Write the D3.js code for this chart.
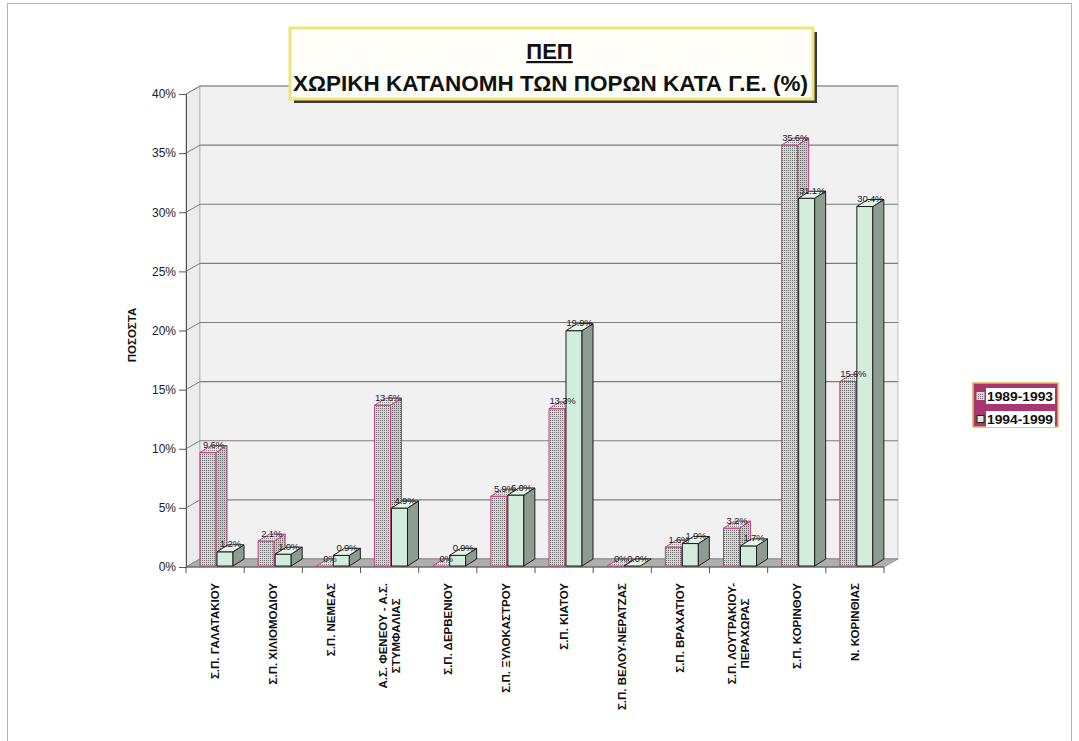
<!DOCTYPE html>
<html>
<head>
<meta charset="utf-8">
<script src="https://cdn.jsdelivr.net/npm/d3@7"></script>
<style>
  html, body { margin: 0; padding: 0; background: #fff; }
  svg { display: block; font-family: "Liberation Sans", Arial, sans-serif; }
</style>
</head>
<body>
<svg id="chart" width="1079" height="741"></svg>
<script>
// Regions (Γ.Ε.) — "\n" marks a wrapped axis label
const categories = [
  "Σ.Π. ΓΑΛΑΤΑΚΙΟΥ",
  "Σ.Π. ΧΙΛΙΟΜΟΔΙΟΥ",
  "Σ.Π. ΝΕΜΕΑΣ",
  "Α.Σ. ΦΕΝΕΟΥ - Α.Σ.\nΣΤΥΜΦΑΛΙΑΣ",
  "Σ.Π. ΔΕΡΒΕΝΙΟΥ",
  "Σ.Π. ΞΥΛΟΚΑΣΤΡΟΥ",
  "Σ.Π. ΚΙΑΤΟΥ",
  "Σ.Π. ΒΕΛΟΥ-ΝΕΡΑΤΖΑΣ",
  "Σ.Π. ΒΡΑΧΑΤΙΟΥ",
  "Σ.Π. ΛΟΥΤΡΑΚΙΟΥ-\nΠΕΡΑΧΩΡΑΣ",
  "Σ.Π. ΚΟΡΙΝΘΟΥ",
  "Ν. ΚΟΡΙΝΘΙΑΣ"
];
const seriesNames = ["1989-1993", "1994-1999"];
const values1989 = [9.6, 2.1, 0, 13.6, 0, 5.9, 13.3, 0, 1.6, 3.2, 35.6, 15.6];
const values1994 = [1.2, 1.0, 0.9, 4.9, 0.9, 6.0, 19.9, 0.0, 1.9, 1.7, 31.1, 30.4];
const yTicks = [0, 5, 10, 15, 20, 25, 30, 35, 40];
const titleLine1 = "ΠΕΠ";
const titleLine2 = "ΧΩΡΙΚΗ ΚΑΤΑΝΟΜΗ ΤΩΝ ΠΟΡΩΝ ΚΑΤΑ Γ.Ε. (%)";
const yAxisTitle = "ΠΟΣΟΣΤΑ";

const series = [values1989, values1994];

const svg = d3.select("#chart");

// page frame
svg.append("rect").attr("x", 7.5).attr("y", 3.5).attr("width", 1064).attr("height", 760)
  .attr("fill", "none").attr("stroke", "#a9b6cc").attr("stroke-width", 1);

// patterns for the dotted 1989-1993 bars
const defs = svg.append("defs");
function dotPattern(id, bg, dot) {
  const p = defs.append("pattern").attr("id", id).attr("patternUnits", "userSpaceOnUse")
    .attr("width", 2).attr("height", 2);
  p.append("rect").attr("width", 2).attr("height", 2).attr("fill", bg);
  p.append("rect").attr("width", 1).attr("height", 1).attr("fill", dot);
}
dotPattern("dotFront", "#d6d6d6", "#6f6f6f");
dotPattern("dotSide", "#c8c8c8", "#666666");
dotPattern("dotTop", "#e4e4e4", "#888888");

// plot geometry
const x0 = 186, x1 = 884;
const wallDx = 14, wallDy = -8;     // depth of the floor / back wall
const barDx = 11, barDy = -7;       // depth of each column

const x = d3.scaleBand().domain(d3.range(categories.length)).range([x0, x1]).paddingInner(0).paddingOuter(0);
const y = d3.scaleLinear().domain([0, 40]).range([567, 94]);

// side wall
svg.append("polygon")
  .attr("points", [[x0, y(40)], [x0 + wallDx, y(40) + wallDy], [x0 + wallDx, y(0) + wallDy], [x0, y(0)]].join(" "))
  .attr("fill", "#ececec").attr("stroke", "#9a9a9a").attr("stroke-width", 0.8);
// back wall
svg.append("rect")
  .attr("x", x0 + wallDx).attr("y", y(40) + wallDy)
  .attr("width", x1 - x0).attr("height", y(0) - y(40))
  .attr("fill", "#f1f1f1").attr("stroke", "#b5b5b5").attr("stroke-width", 0.8);

// gridlines on back wall and side wall
const grid = svg.append("g");
yTicks.forEach(t => {
  grid.append("line")
    .attr("x1", x0 + wallDx).attr("x2", x1 + wallDx)
    .attr("y1", y(t) + wallDy).attr("y2", y(t) + wallDy)
    .attr("stroke", "#7d7d7d").attr("stroke-width", 1.1);
  grid.append("line")
    .attr("x1", x0).attr("x2", x0 + wallDx)
    .attr("y1", y(t)).attr("y2", y(t) + wallDy)
    .attr("stroke", "#7d7d7d").attr("stroke-width", 1);
});

// floor
svg.append("polygon")
  .attr("points", [[x0, y(0)], [x0 + wallDx, y(0) + wallDy], [x1 + wallDx, y(0) + wallDy], [x1, y(0)]].join(" "))
  .attr("fill", "#aeaeae").attr("stroke", "#8c8c8c").attr("stroke-width", 0.8);

// y axis
const yAxis = d3.axisLeft(y).tickValues(yTicks).tickSize(7).tickPadding(3).tickFormat(d => d + "%");
const yg = svg.append("g").attr("transform", `translate(${x0},0)`).call(yAxis);
yg.select(".domain").attr("stroke", "#555");
yg.selectAll(".tick line").attr("stroke", "#555");
yg.selectAll(".tick text").attr("font-size", 12).attr("fill", "#222")
  .attr("font-family", "Liberation Sans, Arial, sans-serif");

// x axis: ticks at category boundaries
const xg = svg.append("g");
xg.append("line").attr("x1", x0).attr("x2", x1).attr("y1", y(0)).attr("y2", y(0))
  .attr("stroke", "#555");
d3.range(categories.length + 1).forEach(i => {
  const bx = i < categories.length ? x(i) : x1;
  xg.append("line").attr("x1", bx).attr("x2", bx).attr("y1", y(0)).attr("y2", y(0) + 6)
    .attr("stroke", "#555");
});

// columns
const styles = [
  { front: "url(#dotFront)", side: "url(#dotSide)", top: "url(#dotTop)", stroke: "#c8407e" },
  { front: "#d3eddc", side: "#8d9c91", top: "#e3f4e8", stroke: "#1e1e1e" }
];
const barW = 16, barGap = 1, barOffset = 14;
const bars = svg.append("g");
const labels = [];
categories.forEach((c, i) => {
  series.forEach((vals, s) => {
    const v = vals[i];
    const st = styles[s];
    const bx = x(i) + barOffset + s * (barW + barGap);
    const yb = y(0) - 1;
    const yt = y(v) - 1;
    const g = bars.append("g").attr("stroke", st.stroke).attr("stroke-width", 1).attr("stroke-linejoin", "round");
    if (v > 0) {
      g.append("rect").attr("x", bx).attr("y", yt).attr("width", barW).attr("height", yb - yt)
        .attr("fill", st.front);
      g.append("polygon")
        .attr("points", [[bx + barW, yt], [bx + barW + barDx, yt + barDy], [bx + barW + barDx, yb + barDy], [bx + barW, yb]].join(" "))
        .attr("fill", st.side);
    }
    g.append("polygon")
      .attr("points", [[bx, yt], [bx + barDx, yt + barDy], [bx + barW + barDx, yt + barDy], [bx + barW, yt]].join(" "))
      .attr("fill", st.top);
    labels.push({
      x: bx + barW / 2 + barDx / 2,
      y: yt + barDy / 2 - 1,
      text: (v === 0 && s === 0) ? "0%" : v.toFixed(1) + "%"
    });
  });
});

// value labels
svg.append("g").selectAll("text").data(labels).join("text")
  .attr("x", d => d.x).attr("y", d => d.y)
  .attr("text-anchor", "middle")
  .attr("font-size", 9.5).attr("fill", "#222")
  .attr("letter-spacing", -0.2)
  .text(d => d.text);

// category labels, rotated, reading upward
const xl = svg.append("g");
categories.forEach((c, i) => {
  const lines = c.split("\n");
  const cx = x(i) + x.bandwidth() / 2;
  const g = xl.append("g");
  const t = g.append("text")
    .attr("text-anchor", "middle")
    .attr("font-size", 11.5).attr("font-weight", "bold").attr("fill", "#111");
  lines.forEach((ln, k) => {
    t.append("tspan").attr("x", 0)
      .attr("y", (k - (lines.length - 1) / 2) * 13)
      .attr("dy", "0.35em").text(ln);
  });
  let maxW = 0;
  t.selectAll("tspan").each(function () { maxW = Math.max(maxW, this.getComputedTextLength()); });
  t.attr("transform", `rotate(-90)`);
  g.attr("transform", `translate(${cx},${y(0) + 16 + maxW / 2})`);
});

// y axis title
svg.append("text")
  .attr("transform", `translate(132,335) rotate(-90)`)
  .attr("text-anchor", "middle").attr("dy", "0.35em")
  .attr("font-size", 11.5).attr("font-weight", "bold").attr("fill", "#111")
  .text(yAxisTitle);

// title box with shadow
const tb = { x: 290, y: 28, w: 523, h: 71 };
svg.append("rect").attr("x", tb.x + 4).attr("y", tb.y + 4).attr("width", tb.w).attr("height", tb.h)
  .attr("fill", "#3a3a3a");
svg.append("rect").attr("x", tb.x).attr("y", tb.y).attr("width", tb.w).attr("height", tb.h)
  .attr("fill", "#fffef8").attr("stroke", "#f0e47a").attr("stroke-width", 3);
svg.append("text")
  .attr("x", tb.x + tb.w / 2 - 2).attr("y", 59)
  .attr("text-anchor", "middle").attr("font-size", 22).attr("font-weight", "bold").attr("fill", "#111")
  .attr("text-decoration", "underline")
  .text(titleLine1);
svg.append("text")
  .attr("x", tb.x + tb.w / 2 - 1).attr("y", 91)
  .attr("text-anchor", "middle").attr("font-size", 22.5).attr("font-weight", "bold").attr("fill", "#111")
  .text(titleLine2);

// legend
const lg = svg.append("g");
lg.append("rect").attr("x", 973).attr("y", 383).attr("width", 85).attr("height", 44)
  .attr("fill", "#a8376f").attr("stroke", "#e9b552").attr("stroke-width", 1.5);
seriesNames.forEach((name, s) => {
  const cy = 396 + s * 23;
  lg.append("rect").attr("x", 986).attr("y", cy - 8).attr("width", 69).attr("height", 16)
    .attr("fill", "#ffffff");
  lg.append("rect").attr("x", 977).attr("y", cy - 3.5).attr("width", 7).attr("height", 7)
    .attr("fill", s === 0 ? "url(#dotFront)" : styles[1].front)
    .attr("stroke", s === 0 ? "#d9d9d9" : "#222").attr("stroke-width", 1);
  lg.append("text").attr("x", 987).attr("y", cy).attr("dy", "0.35em")
    .attr("font-size", 13).attr("font-weight", "bold").attr("fill", "#111")
    .attr("textLength", 66).attr("lengthAdjust", "spacingAndGlyphs")
    .text(name);
});
</script>
</body>
</html>
